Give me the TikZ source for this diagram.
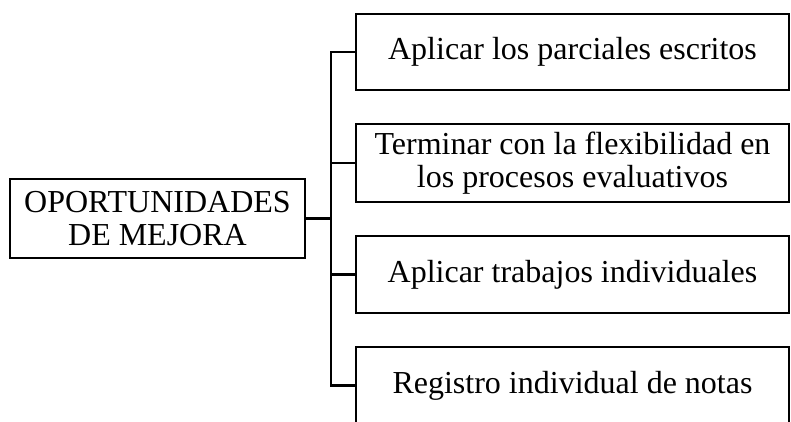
\documentclass[tikz,border=0pt]{standalone}
\usepackage{fontspec}
\setmainfont{Liberation Serif}
\begin{document}
\begin{tikzpicture}[x=1pt,y=-1pt,
  box/.style={draw, line width=2.6pt, inner sep=0pt, align=center,
    font=\fontsize{32}{33}\selectfont},
  conn/.style={line width=2.6pt}]
\clip (0,0) rectangle (791,421);
\node[box, minimum width=295pt, minimum height=79pt] (L) at (157.5,218.5) {OPORTUNIDADES\\DE MEJORA};
\node[box, minimum width=433pt, minimum height=76pt] (b1) at (572.5,52) {Aplicar los parciales escritos};
\node[box, minimum width=433pt, minimum height=78pt] (b2) at (572.5,163) {Terminar con la flexibilidad en\\los procesos evaluativos};
\node[box, minimum width=433pt, minimum height=77pt] (b3) at (572.5,274.5) {Aplicar trabajos individuales};
\node[box, minimum width=433pt, minimum height=77pt] (b4) at (572.5,385.5) {Registro individual de notas};
\coordinate (t) at (331,0);
\draw[conn] (L.east) -- (L.east -| t);
\draw[conn] (b1.west) -- (b1.west -| t) -- (b4.west -| t) -- (b4.west);
\draw[conn] (b2.west) -- (b2.west -| t);
\draw[conn] (b3.west) -- (b3.west -| t);
\end{tikzpicture}
\end{document}
